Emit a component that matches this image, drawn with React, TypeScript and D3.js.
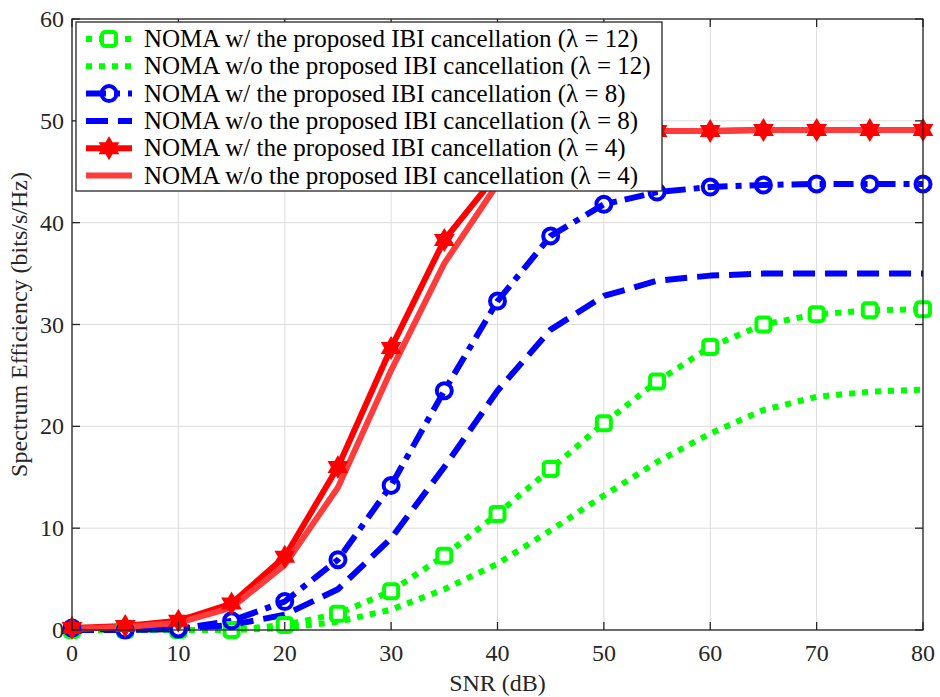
import React from "react";
import * as d3 from "d3";

const snr = [0, 5, 10, 15, 20, 25, 30, 35, 40, 45, 50, 55, 60, 65, 70, 75, 80];
const greenWith = [0, 0, 0, 0, 0.5, 1.6, 3.8, 7.3, 11.4, 15.8, 20.3, 24.4, 27.8, 30.0, 31.0, 31.4, 31.5];
const greenWithout = [0, 0, 0, 0, 0.2, 0.8, 2.0, 4.0, 6.5, 9.8, 13.2, 16.5, 19.3, 21.6, 22.9, 23.4, 23.6];
const blueWith = [0.2, 0, 0.1, 0.9, 2.8, 6.9, 14.2, 23.5, 32.3, 38.7, 41.8, 43.0, 43.5, 43.7, 43.8, 43.8, 43.8];
const blueWithout = [0, 0, 0.1, 0.5, 1.5, 4.0, 9.0, 16.0, 23.5, 29.5, 32.8, 34.3, 34.8, 35.0, 35.0, 35.0, 35.0];
const redWith = [0.2, 0.4, 0.9, 2.6, 7.2, 16.0, 27.7, 38.3, 44.8, 48.0, 48.9, 49.0, 49.0, 49.1, 49.1, 49.1, 49.1];
const redWithout = [0.1, 0.3, 0.7, 2.2, 6.4, 14.0, 25.5, 36.0, 43.8, 47.6, 48.9, 49.0, 49.0, 49.1, 49.1, 49.1, 49.1];

const xTicks = [0, 10, 20, 30, 40, 50, 60, 70, 80];
const yTicks = [0, 10, 20, 30, 40, 50, 60];

const legendLabels = [
  "NOMA w/ the proposed IBI cancellation (\u03bb = 12)",
  "NOMA w/o the proposed IBI cancellation (\u03bb = 12)",
  "NOMA w/ the proposed IBI cancellation (\u03bb = 8)",
  "NOMA w/o the proposed IBI cancellation (\u03bb = 8)",
  "NOMA w/ the proposed IBI cancellation (\u03bb = 4)",
  "NOMA w/o the proposed IBI cancellation (\u03bb = 4)",
];

type Series = {
  values: number[];
  color: string;
  dash: string;
  marker: "square" | "circle" | "hexagram" | "none";
  width: number;
};

const series: Series[] = [
  { values: greenWith, color: "#00ff00", dash: "6 7", marker: "square", width: 6 },
  { values: greenWithout, color: "#00ff00", dash: "6 7", marker: "none", width: 6 },
  { values: blueWith, color: "#0000ff", dash: "20 8 6 8", marker: "circle", width: 6 },
  { values: blueWithout, color: "#0000ff", dash: "22 10", marker: "none", width: 6 },
  { values: redWith, color: "#ff0000", dash: "", marker: "hexagram", width: 6 },
  { values: redWithout, color: "#ff3b3b", dash: "", marker: "none", width: 6 },
];

const W = 940;
const H = 697;
const left = 72;
const right = 923;
const top = 19;
const bottom = 630;
const FONT = "'Liberation Serif', 'Times New Roman', serif";

function hexagramPath(r: number) {
  const pts: [number, number][] = [];
  for (let i = 0; i < 12; i++) {
    const a = (Math.PI / 6) * i - Math.PI / 2;
    const rr = i % 2 === 0 ? r : r * 0.58;
    pts.push([rr * Math.cos(a), rr * Math.sin(a)]);
  }
  return "M" + pts.map((p) => p.join(",")).join("L") + "Z";
}

function Marker({ type, color, x, y }: { type: string; color: string; x: number; y: number }) {
  if (type === "square") {
    return (
      <rect x={x - 7} y={y - 7} width={14} height={14} rx={3} fill="#ffffff" stroke={color} strokeWidth={4} />
    );
  }
  if (type === "circle") {
    return <circle cx={x} cy={y} r={7.5} fill="none" stroke={color} strokeWidth={4} />;
  }
  if (type === "hexagram") {
    return <path d={hexagramPath(10.5)} transform={`translate(${x},${y})`} fill={color} stroke={color} strokeWidth={1.5} />;
  }
  return null;
}

export default function App() {
  const x = d3.scaleLinear().domain([0, 80]).range([left, right]);
  const y = d3.scaleLinear().domain([0, 60]).range([bottom, top]);
  const line = d3
    .line<number>()
    .x((_, i) => x(snr[i]))
    .y((d) => y(d))
    .curve(d3.curveLinear);

  const legX = 76;
  const legY = 22;
  const legW = 586;
  const legH = 169;
  const rowY = (i: number) => legY + 17 + i * 27.3;

  return (
    <svg width={W} height={H} style={{ display: "block", position: "absolute", left: 0, top: 0, background: "#fff" }}>
      <rect x={0} y={0} width={W} height={H} fill="#ffffff" />
      {/* grid */}
      {xTicks.map((t) => (
        <line key={"gx" + t} x1={x(t)} x2={x(t)} y1={top} y2={bottom} stroke="#dcdcdc" strokeWidth={1} />
      ))}
      {yTicks.map((t) => (
        <line key={"gy" + t} x1={left} x2={right} y1={y(t)} y2={y(t)} stroke="#dcdcdc" strokeWidth={1} />
      ))}
      {/* series */}
      <g>
        {series.map((s, i) => (
          <path
            key={"s" + i}
            d={line(s.values) || ""}
            fill="none"
            stroke={s.color}
            strokeWidth={s.width}
            strokeDasharray={s.dash || undefined}
            strokeLinejoin="round"
          />
        ))}
        {series.map((s, i) =>
          s.marker === "none"
            ? null
            : s.values.map((v, j) => <Marker key={`m${i}-${j}`} type={s.marker} color={s.color} x={x(snr[j])} y={y(v)} />)
        )}
      </g>
      {/* axes box */}
      <rect x={left} y={top} width={right - left} height={bottom - top} fill="none" stroke="#262626" strokeWidth={1.3} />
      {xTicks.map((t) => (
        <g key={"xt" + t}>
          <line x1={x(t)} x2={x(t)} y1={bottom} y2={bottom - 8} stroke="#262626" strokeWidth={1.3} />
          <line x1={x(t)} x2={x(t)} y1={top} y2={top + 8} stroke="#262626" strokeWidth={1.3} />
          <text x={x(t)} y={bottom + 31} textAnchor="middle" fontFamily={FONT} fontSize={24} fill="#262626">
            {t}
          </text>
        </g>
      ))}
      {yTicks.map((t) => (
        <g key={"yt" + t}>
          <line x1={left} x2={left + 8} y1={y(t)} y2={y(t)} stroke="#262626" strokeWidth={1.3} />
          <line x1={right} x2={right - 8} y1={y(t)} y2={y(t)} stroke="#262626" strokeWidth={1.3} />
          <text x={left - 8} y={y(t) + 8} textAnchor="end" fontFamily={FONT} fontSize={24} fill="#262626">
            {t}
          </text>
        </g>
      ))}
      <text x={(left + right) / 2} y={691} textAnchor="middle" fontFamily={FONT} fontSize={24} fill="#262626">
        SNR (dB)
      </text>
      <text
        transform={`translate(27,${(top + bottom) / 2}) rotate(-90)`}
        textAnchor="middle"
        fontFamily={FONT}
        fontSize={24}
        fill="#262626"
      >
        Spectrum Efficiency (bits/s/Hz)
      </text>
      {/* legend */}
      <rect x={legX} y={legY} width={legW} height={legH} fill="#ffffff" stroke="#262626" strokeWidth={1.3} />
      {series.map((s, i) => (
        <g key={"lg" + i}>
          <line
            x1={legX + 10}
            x2={legX + 56}
            y1={rowY(i)}
            y2={rowY(i)}
            stroke={s.color}
            strokeWidth={s.width}
            strokeDasharray={s.dash || undefined}
          />
          <Marker type={s.marker} color={s.color} x={legX + 33} y={rowY(i)} />
          <text x={legX + 68} y={rowY(i) + 8} fontFamily={FONT} fontSize={25} fill="#000000">
            {legendLabels[i]}
          </text>
        </g>
      ))}
    </svg>
  );
}
